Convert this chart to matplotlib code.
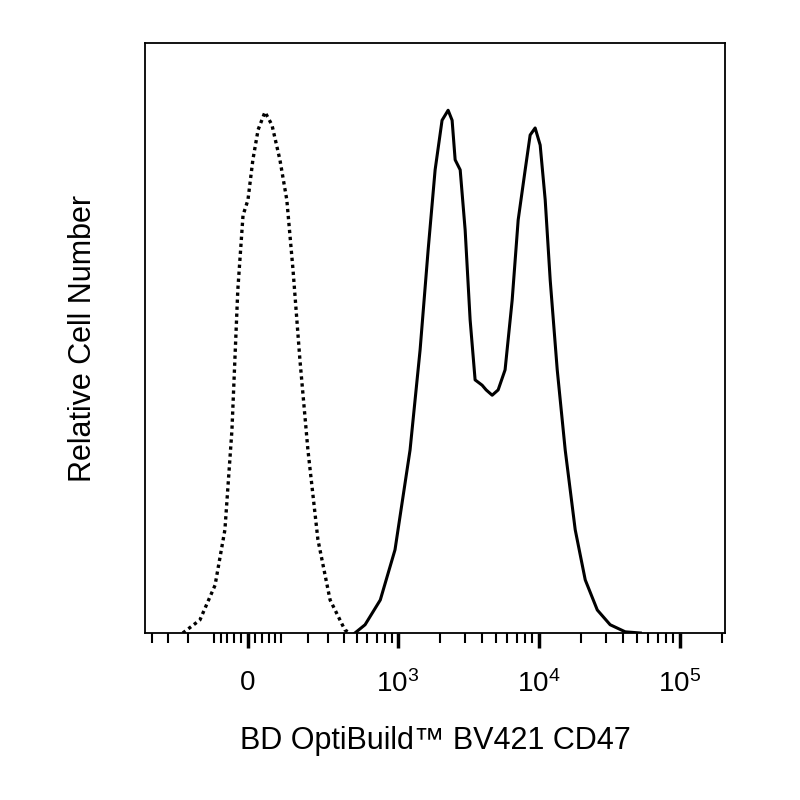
import numpy as np
import matplotlib
matplotlib.use("Agg")
import matplotlib.pyplot as plt

plt.rcParams['font.family'] = ['Liberation Sans', 'DejaVu Sans']
plt.rcParams['mathtext.fontset'] = 'custom'
plt.rcParams['mathtext.rm'] = 'Liberation Sans'
plt.rcParams['mathtext.it'] = 'Liberation Sans'

C = 174.0
def fwd(v): return np.arcsinh(np.asarray(v, float) / C)
def inv(u): return C * np.sinh(np.asarray(u, float))

iso_x = [-222, -151, -98, -67, -46, -29, -14, 0, 14, 29, 49, 70, 95, 118, 140, 166, 199, 245, 310, 406, 444]
iso_y = [0, 2.2, 8.1, 17.5, 34.4, 58.1, 70.8, 73.4, 80.2, 85.3, 88.3, 86.1, 80.2, 73.4, 61.5, 46.3, 31.0, 15.8, 5.6, 0.5, 0]

cd47_x = [484, 576, 745, 952, 1221, 1441, 1644, 1844, 2066, 2282, 2436, 2560, 2780, 3015, 3270, 3548, 3980,
          4250, 4690, 5170, 5790, 6500, 7170, 8040, 8720, 9460, 10270, 11150, 12100, 13570, 15460, 18200,
          21440, 26100, 32200, 41200, 52700]
cd47_y = [0, 1.4, 5.6, 14.1, 31.0, 48.0, 64.9, 78.5, 86.9, 88.6, 86.9, 80.2, 78.5, 68.3, 53.1, 42.9, 42.0,
          41.2, 40.3, 41.2, 44.6, 56.4, 70.0, 78.5, 84.4, 85.6, 82.7, 73.4, 59.8, 44.6, 31.0, 17.5,
          9.0, 3.9, 1.4, 0.2, 0]

major_ticks = [0, 1000, 10000, 100000]
major_labels = ['0', r'$\mathregular{10^3}$', r'$\mathregular{10^4}$', r'$\mathregular{10^5}$']
minor_ticks = ([-400, -300, -200, -100, -80, -60, -40, -20, 20, 40, 60, 80] +
               [100 * k for k in range(1, 10)] + [1000 * k for k in range(2, 10)] +
               [10000 * k for k in range(2, 10)] + [200000])

fig = plt.figure(figsize=(8, 8), dpi=100)
ax = fig.add_axes([145/800, 1 - 633/800, 580/800, 590/800])
ax.set_xscale('function', functions=(fwd, inv))
ax.plot(iso_x, iso_y, color='black', lw=2.4, linestyle=(0, (1, 1.1)))
ax.plot(cd47_x, cd47_y, color='black', lw=2.2)
ax.set_xlim(-451, 210000)
ax.set_ylim(0, 100)
ax.set_xticks(major_ticks)
ax.set_xticklabels(major_labels, fontsize=20)
ax.set_xticks(minor_ticks, minor=True)
ax.tick_params(axis='x', which='major', length=11, width=2.5, direction='out', pad=16)
ax.tick_params(axis='x', which='minor', length=7, width=1.5, direction='out')
ax.set_yticks([])
for s in ax.spines.values():
    s.set_linewidth(1.3)
ax.set_xlabel('BD OptiBuild™ BV421 CD47', fontsize=22, labelpad=20)
ax.set_ylabel('Relative Cell Number', fontsize=22, labelpad=34)
fig.savefig('out.png', dpi=100)
